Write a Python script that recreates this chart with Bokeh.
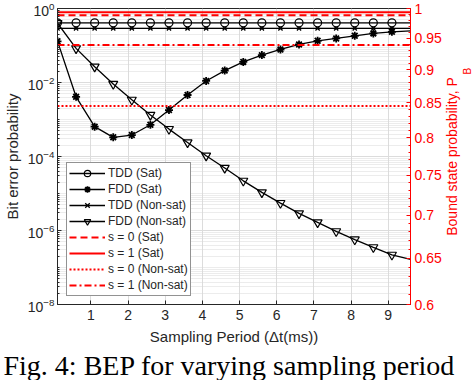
import math
from bokeh.plotting import figure
from bokeh.layouts import row, column
from bokeh.models import (Range1d, LogScale, LogAxis, FixedTicker, Legend, LegendItem,
                          Title, CustomJSTickFormatter)
from bokeh.embed import file_html
from bokeh.resources import INLINE

# ---------------- data ----------------
x = [0.1, 0.6, 1.1, 1.6, 2.1, 2.6, 3.1, 3.6, 4.1, 4.6,
     5.1, 5.6, 6.1, 6.6, 7.1, 7.6, 8.1, 8.6, 9.1, 9.6]
tdd_sat = [0.41] * 20
tdd_nonsat = [0.29] * 20
fdd_sat = [0.13, 4.1e-3, 6.4e-4, 3.3e-4, 3.8e-4, 7.2e-4, 1.8e-3, 4.6e-3, 1.1e-2, 2.1e-2,
           3.6e-2, 5.5e-2, 7.8e-2, 0.107, 0.134, 0.155, 0.183, 0.212, 0.234, 0.25]
fdd_nonsat = [0.40, 8.35e-2, 2.67e-2, 9.1e-3, 3.4e-3, 1.33e-3, 5.5e-4, 2.4e-4, 1.05e-4, 4.9e-5,
              2.2e-5, 1.07e-5, 5.5e-6, 2.9e-6, 1.65e-6, 9.5e-7, 5.7e-7, 3.5e-7, 2.2e-7, 1.65e-7]
pb_s0_sat = 0.9885
pb_s1_sat = 0.9936
pb_s0_nonsat = 0.845
pb_s1_nonsat = 0.939
x_ticks = [1, 2, 3, 4, 5, 6, 7, 8, 9]
bep_ticks = [1e-8, 1e-6, 1e-4, 1e-2, 1]
pb_ticks = [0.6, 0.65, 0.7, 0.75, 0.8, 0.85, 0.9, 0.95, 1.0]

DARK = "#262626"
RED = "#ff0000"
FONT = "Liberation Sans"

p = figure(width=444, height=347, x_range=Range1d(0.1, 9.6), y_range=Range1d(1e-8, 1),
           y_axis_type="log", output_backend="svg", toolbar_location=None,
           min_border_left=50, min_border_right=31, min_border_top=8, min_border_bottom=42)
p.outline_line_color = DARK
p.outline_line_width = 1

# secondary log axis
p.extra_y_ranges = {"pb": Range1d(0.6, 1.0)}
p.extra_y_scales = {"pb": LogScale()}

# grids
p.xgrid.ticker = FixedTicker(ticks=x_ticks)
p.xgrid.grid_line_color = "#dcdcdc"
p.ygrid.grid_line_color = "#dcdcdc"
p.ygrid.minor_grid_line_color = "#d8d8d8"
p.ygrid.minor_grid_line_dash = "1 1"

# x axis
xa = p.xaxis[0]
xa.ticker = FixedTicker(ticks=x_ticks)
xa.axis_label = "Sampling Period (\u0394t(ms))"
xa.axis_label_text_font = FONT
xa.axis_label_text_font_size = "15px"
xa.axis_label_text_font_style = "normal"
xa.axis_label_text_color = DARK
xa.axis_label_standoff = 5
xa.major_label_text_font = FONT
xa.major_label_text_font_size = "14px"
xa.major_label_text_color = DARK
xa.major_label_standoff = 5
xa.axis_line_color = DARK
xa.major_tick_line_color = DARK
xa.major_tick_in = 4
xa.major_tick_out = 0
xa.minor_tick_line_color = None

# left axis
minor_bep = [m * 10.0 ** k for k in range(-8, 0) for m in range(1, 10) if not (m == 1 and k % 2 == 0)]
ya = p.yaxis[0]
ya.ticker = FixedTicker(ticks=bep_ticks, minor_ticks=minor_bep)
ya.axis_label = "Bit error probability"
ya.axis_label_text_font = FONT
ya.axis_label_text_font_size = "15px"
ya.axis_label_text_font_style = "normal"
ya.axis_label_text_color = DARK
ya.axis_label_standoff = 4
ya.major_label_text_font = FONT
ya.major_label_text_font_size = "14px"
ya.major_label_text_color = DARK
ya.major_label_standoff = 3
ya.axis_line_color = DARK
ya.major_tick_line_color = DARK
ya.minor_tick_line_color = DARK
ya.major_tick_in = 4
ya.major_tick_out = 0
ya.minor_tick_in = 2
ya.minor_tick_out = 0
p.ygrid.ticker = ya.ticker

# right axis (ticks only; its title is drawn in the narrow strip to the right)
minor_pb = [round(0.6 + 0.01 * i, 2) for i in range(1, 40) if i % 5 != 0]
ra = LogAxis(y_range_name="pb", ticker=FixedTicker(ticks=pb_ticks, minor_ticks=minor_pb),
             formatter=CustomJSTickFormatter(code="return String(Math.round(tick*100)/100)"))
ra.major_label_text_font = FONT
ra.major_label_text_font_size = "14px"
ra.major_label_text_color = RED
ra.major_label_standoff = 4
ra.axis_line_color = RED
ra.major_tick_line_color = RED
ra.minor_tick_line_color = RED
ra.major_tick_in = 4
ra.major_tick_out = 0
ra.minor_tick_in = 2
ra.minor_tick_out = 0
p.add_layout(ra, "right")

# ---------------- glyphs ----------------
xm = x[:-1]
items = []

r1 = p.line(x, tdd_sat, color="black", line_width=1.3)
m1 = p.scatter(xm, tdd_sat[:-1], marker="circle", size=8, line_color="black",
               fill_color=None, line_width=1.2)
items.append(LegendItem(label="TDD (Sat)", renderers=[r1, m1]))

r2 = p.line(x, fdd_sat, color="black", line_width=1.3)
m2 = p.scatter(xm, fdd_sat[:-1], marker="asterisk", size=8, line_color="black", line_width=1.8)
items.append(LegendItem(label="FDD (Sat)", renderers=[r2, m2]))

r3 = p.line(x, tdd_nonsat, color="black", line_width=1.3)
m3 = p.scatter(xm, tdd_nonsat[:-1], marker="x", size=6, line_color="black", line_width=1.3)
items.append(LegendItem(label="TDD (Non-sat)", renderers=[r3, m3]))

r4 = p.line(x, fdd_nonsat, color="black", line_width=1.3)
m4 = p.scatter(xm, fdd_nonsat[:-1], marker="inverted_triangle", size=9, line_color="black",
               fill_color=None, line_width=1.2)
items.append(LegendItem(label="FDD (Non-sat)", renderers=[r4, m4]))

xs = [x[0], x[-1]]
r5 = p.line(xs, [pb_s0_sat] * 2, y_range_name="pb", color=RED, line_width=2, line_dash="7 4")
items.append(LegendItem(label="s = 0 (Sat)", renderers=[r5]))
r6 = p.line(xs, [pb_s1_sat] * 2, y_range_name="pb", color=RED, line_width=2)
items.append(LegendItem(label="s = 1 (Sat)", renderers=[r6]))
r7 = p.line(xs, [pb_s0_nonsat] * 2, y_range_name="pb", color=RED, line_width=2, line_dash="2 2")
items.append(LegendItem(label="s = 0 (Non-sat)", renderers=[r7]))
r8 = p.line(xs, [pb_s1_nonsat] * 2, y_range_name="pb", color=RED, line_width=2, line_dash="7 3 2 3")
items.append(LegendItem(label="s = 1 (Non-sat)", renderers=[r8]))

legend = Legend(items=items, location=(9, 8))
legend.label_text_font = FONT
legend.label_text_font_size = "12px"
legend.label_text_color = DARK
legend.glyph_width = 36
legend.glyph_height = 16
legend.label_height = 16
legend.spacing = 0
legend.padding = 2
legend.margin = 0
legend.label_standoff = 3
legend.border_line_color = DARK
legend.border_line_width = 0.8
legend.background_fill_alpha = 1
p.add_layout(legend, "center")

# ---------------- right-axis title strip: "Bound state probability, P_B" ----------------
q = figure(width=28, height=347, x_range=Range1d(0, 1), y_range=Range1d(0, 1),
           output_backend="svg", toolbar_location=None,
           x_axis_location=None, y_axis_location=None,
           min_border_left=0, min_border_right=0, min_border_top=8, min_border_bottom=42)
q.outline_line_color = None
q.grid.visible = False
q.add_layout(Title(text="B", align="left", offset=230, standoff=0,
                   text_font=FONT, text_font_size="10px", text_font_style="normal",
                   text_color=RED), "left")
q.add_layout(Title(text="Bound state probability, P", align="center", standoff=0,
                   text_font=FONT, text_font_size="14px", text_font_style="normal",
                   text_color=RED), "left")

# ---------------- caption strip ----------------
c = figure(width=472, height=33, x_range=Range1d(0, 1), y_range=Range1d(0, 1),
           output_backend="svg", toolbar_location=None,
           x_axis_location=None, y_axis_location=None,
           min_border_left=0, min_border_right=0, min_border_top=0, min_border_bottom=0)
c.outline_line_color = None
c.grid.visible = False
c.add_layout(Title(text="Fig. 4: BEP for varying sampling period", align="left", offset=3,
                   standoff=0, text_font="Liberation Serif", text_font_size="28px",
                   text_font_style="normal", text_color="black"), "above")

layout = column(row(p, q, spacing=0), c, spacing=0)
open("out.html", "w").write(file_html(layout, INLINE))
